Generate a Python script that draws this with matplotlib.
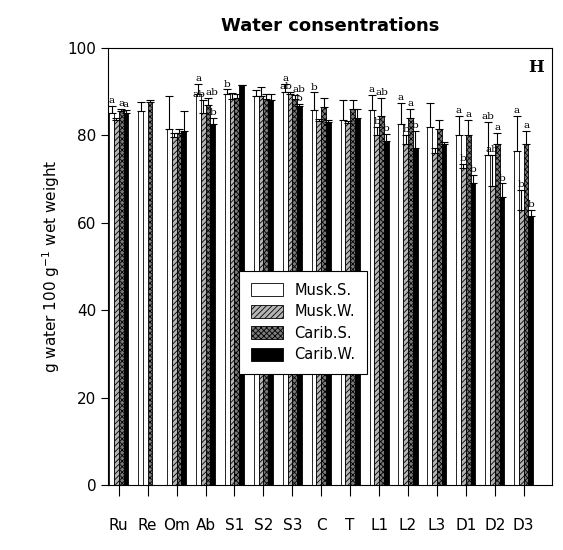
import numpy as np
import matplotlib.pyplot as plt

sites = ["Ru", "Re", "Om", "Ab", "S1", "S2", "S3", "C", "T", "L1", "L2", "L3", "D1", "D2", "D3"]
series = ["Musk.S.", "Musk.W.", "Carib.S.", "Carib.W."]

musk_s = [85.0, 85.5, 81.5, 89.5, 89.5, 88.9, 90.0, 85.8, 83.5, 85.8, 82.5, 82.0, 80.0, 75.5, 76.5]
musk_w = [83.4, np.nan, 79.5, 85.0, 88.2, 89.1, 89.5, 83.3, 82.8, 80.0, 78.0, 76.0, 72.5, 68.5, 63.0]
carib_s = [85.6, 87.7, 80.5, 87.0, 88.5, 88.4, 88.4, 86.5, 86.0, 84.5, 84.0, 81.5, 80.0, 78.0, 78.0]
carib_w = [85.0, np.nan, 81.0, 82.5, 91.5, 88.0, 86.6, 83.0, 84.0, 78.8, 77.0, 78.0, 69.0, 66.0, 61.5]

err_musk_s = [1.8, 2.2, 7.5, 2.2, 1.0, 1.4, 1.8, 4.0, 4.5, 3.5, 5.0, 5.5, 4.5, 7.5, 8.0]
err_musk_w = [0.5, 0, 1.0, 3.0, 1.5, 2.0, 0.5, 0.5, 0.5, 2.0, 2.0, 1.0, 1.0, 7.0, 4.5]
err_carib_s = [0.5, 0.3, 1.0, 1.5, 1.0, 1.0, 0.8, 2.0, 2.0, 4.0, 2.0, 2.0, 3.5, 2.5, 3.0]
err_carib_w = [0.8, 0, 4.5, 1.5, 0.0, 1.5, 0.5, 0.5, 2.0, 1.5, 4.0, 0.5, 2.0, 3.0, 1.5]

# significance letters (Musk.S, Musk.W, Carib.S, Carib.W) per site
letters = [["a", "", "a", "a"], ["", "", "", ""], ["", "", "", ""],
           ["a", "ab", "ab", "b"], ["b", "", "", ""], ["", "", "", ""],
           ["a", "ab", "ab", "b"], ["b", "", "", ""], ["", "", "", ""],
           ["a", "b", "ab", "b"], ["a", "b", "a", "b"], ["", "", "", ""],
           ["a", "b", "a", "b"], ["ab", "ab", "a", "b"], ["a", "b", "a", "b"]]

values = [musk_s, musk_w, carib_s, carib_w]
errors = [err_musk_s, err_musk_w, err_carib_s, err_carib_w]
faces = ["white", "#b5b5b5", "#7a7a7a", "black"]
hatches = [None, "//////", "xxxxxx", None]

plt.rcParams['hatch.linewidth'] = 0.6
fig = plt.figure(figsize=(5.63, 5.5), dpi=100)
ax = fig.add_axes([0.192, 0.118, 0.788, 0.795])

x = np.arange(len(sites))
w = 0.165
handles = []
for i in range(4):
    xs = x + (i - 1.5) * w
    b = ax.bar(xs, values[i], w, color=faces[i], edgecolor="black", linewidth=0.6,
               hatch=hatches[i], label=series[i])
    handles.append(b)
    v = np.array(values[i])
    e = np.array(errors[i])
    ok = ~np.isnan(v)
    ax.errorbar(xs[ok], v[ok], yerr=[np.zeros(ok.sum()), e[ok]], fmt="none",
                ecolor="black", elinewidth=0.8, capsize=3, capthick=0.8)
    for j in range(len(sites)):
        if letters[j][i] and ok[j]:
            tx, ha = xs[j], "center"
            # two neighbouring "ab" labels: push them apart
            if letters[j][1] == "ab" and letters[j][2] == "ab":
                if i == 1:
                    tx, ha = xs[j] + w * 0.45, "right"
                elif i == 2:
                    tx, ha = xs[j] - w * 0.45, "left"
            ax.text(tx, v[j] + e[j] + 0.2, letters[j][i], ha=ha, va="bottom",
                    fontsize=7.5, family="serif")

ax.set_xlim(-0.37, 14.97)
ax.set_ylim(0, 100)
ax.set_xticks(x)
ax.set_xticklabels(sites, fontsize=11)
ax.set_yticks(np.arange(0, 101, 20))
ax.tick_params(axis="y", labelsize=11, direction="out", length=5)
ax.tick_params(axis="x", direction="out", length=8, pad=16)
ax.set_ylabel("g water 100 g$^{-1}$ wet weight", fontsize=11)
ax.set_title("Water consentrations", fontsize=13, fontweight="bold", pad=12)
ax.text(0.965, 0.955, "H", transform=ax.transAxes, ha="center", va="center",
        fontsize=12, fontweight="bold", family="serif")

leg = ax.legend(handles=handles, loc="upper left", bbox_to_anchor=(0.279, 0.506),
                fontsize=10.5, fancybox=False, edgecolor="black", framealpha=1,
                handlelength=2.2, handleheight=1.0, borderpad=0.8, labelspacing=0.45)
leg.get_frame().set_linewidth(0.8)

plt.savefig("out.png", dpi=100)
